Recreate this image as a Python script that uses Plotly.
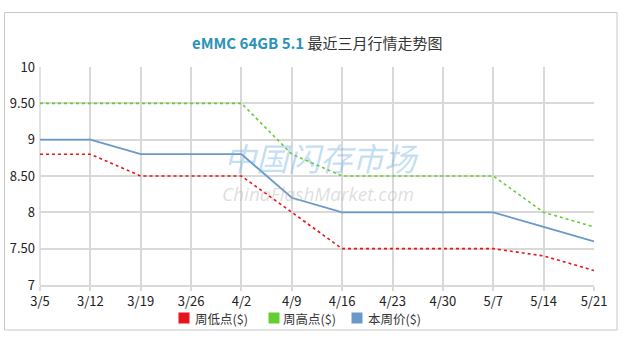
import plotly.graph_objects as go

categories = ["3/5", "3/12", "3/19", "3/26", "4/2", "4/9", "4/16", "4/23", "4/30", "5/7", "5/14", "5/21"]
week_low = [8.8, 8.8, 8.5, 8.5, 8.5, 8.0, 7.5, 7.5, 7.5, 7.5, 7.4, 7.2]
week_high = [9.5, 9.5, 9.5, 9.5, 9.5, 8.8, 8.5, 8.5, 8.5, 8.5, 8.0, 7.8]
week_price = [9.0, 9.0, 8.8, 8.8, 8.8, 8.2, 8.0, 8.0, 8.0, 8.0, 7.8, 7.6]
y_ticks = [7, 7.5, 8, 8.5, 9, 9.5, 10]
y_ticktext = ["7", "7.50", "8", "8.50", "9", "9.50", "10"]
series_names = ["周低点($)", "周高点($)", "本周价($)"]

RED = "#e8141c"
GREEN = "#66cc33"
BLUE = "#6a98c8"
FONT = "Noto Sans CJK SC"
colors = [RED, GREEN, BLUE]

fig = go.Figure()
fig.add_trace(go.Scatter(x=categories, y=week_low, mode="lines", name=series_names[0],
                         line=dict(color=RED, width=1.6, dash="dot"), showlegend=False))
fig.add_trace(go.Scatter(x=categories, y=week_high, mode="lines", name=series_names[1],
                         line=dict(color=GREEN, width=1.6, dash="dot"), showlegend=False))
fig.add_trace(go.Scatter(x=categories, y=week_price, mode="lines", name=series_names[2],
                         line=dict(color=BLUE, width=1.8), showlegend=False))

L, R, T, B = 40, 31, 67, 71
W, H = 625, 356
pw, ph = W - L - R, H - T - B

def px(x):
    return (x - L) / pw

def py(y):
    return (H - B - y) / ph

shapes = [
    dict(type="rect", xref="paper", yref="paper",
         x0=px(4.5), x1=px(617), y0=py(330), y1=py(12.5),
         line=dict(color="#c8c8c8", width=1), fillcolor="rgba(0,0,0,0)", layer="below"),
    dict(type="line", xref="paper", yref="paper",
         x0=px(40), x1=px(40), y0=0, y1=1,
         line=dict(color="#d9d9d9", width=1.5), layer="below"),
]
annotations = [
    dict(text="<b><span style='color:#2b93b5'>eMMC 64GB 5.1</span></b> <span style='color:#333333'>最近三月行情走势图</span>",
         x=px(317), y=py(30), xref="paper", yref="paper", showarrow=False,
         font=dict(size=15, family=FONT)),
    dict(text="<i>中国闪存市场</i>", x=px(321), y=py(157), xref="paper", yref="paper",
         showarrow=False, font=dict(size=32, family=FONT, color="rgba(110,175,225,0.42)")),
    dict(text="<i>ChinaFlashMarket.com</i>", x=px(318), y=py(194), xref="paper", yref="paper",
         showarrow=False, font=dict(size=19, family="Open Sans", color="rgba(175,175,175,0.42)")),
]

# manual legend (square swatch + label)
sq_centers = [184, 274, 357]
text_left = [193, 281, 366]
for name, col, cx, tx in zip(series_names, colors, sq_centers, text_left):
    shapes.append(dict(type="rect", xref="paper", yref="paper",
                       x0=px(cx - 5.5), x1=px(cx + 5.5), y0=py(323.5), y1=py(312.5),
                       line=dict(width=0), fillcolor=col))
    annotations.append(dict(text=name, x=px(tx), y=py(318.5), xref="paper", yref="paper",
                            xanchor="left", yanchor="middle", showarrow=False,
                            font=dict(size=12.5, family=FONT, color="#333333")))

fig.update_layout(
    width=W, height=H,
    margin=dict(l=L, r=R, t=T, b=B, autoexpand=False),
    paper_bgcolor="white", plot_bgcolor="white",
    font=dict(family=FONT, size=13, color="#333333"),
    showlegend=False,
    xaxis=dict(type="category", range=[0, len(categories) - 1],
               showgrid=True, gridcolor="#d9d9d9", gridwidth=1.5,
               showline=True, linecolor="#d9d9d9", linewidth=1.5,
               ticks="outside", ticklen=4, tickcolor="#d9d9d9", tickwidth=1.5,
               tickfont=dict(size=13, color="#222222"), zeroline=False),
    yaxis=dict(range=[7, 10], tickvals=y_ticks, ticktext=y_ticktext,
               showgrid=True, gridcolor="#d9d9d9", gridwidth=1.5,
               showline=False, ticks="", ticklabelstandoff=4,
               tickfont=dict(size=13, color="#222222"), zeroline=False),
    shapes=shapes,
    annotations=annotations,
)

fig.write_html("out.html", config={"displayModeBar": False},
               post_script="document.body.style.margin='0px';")
